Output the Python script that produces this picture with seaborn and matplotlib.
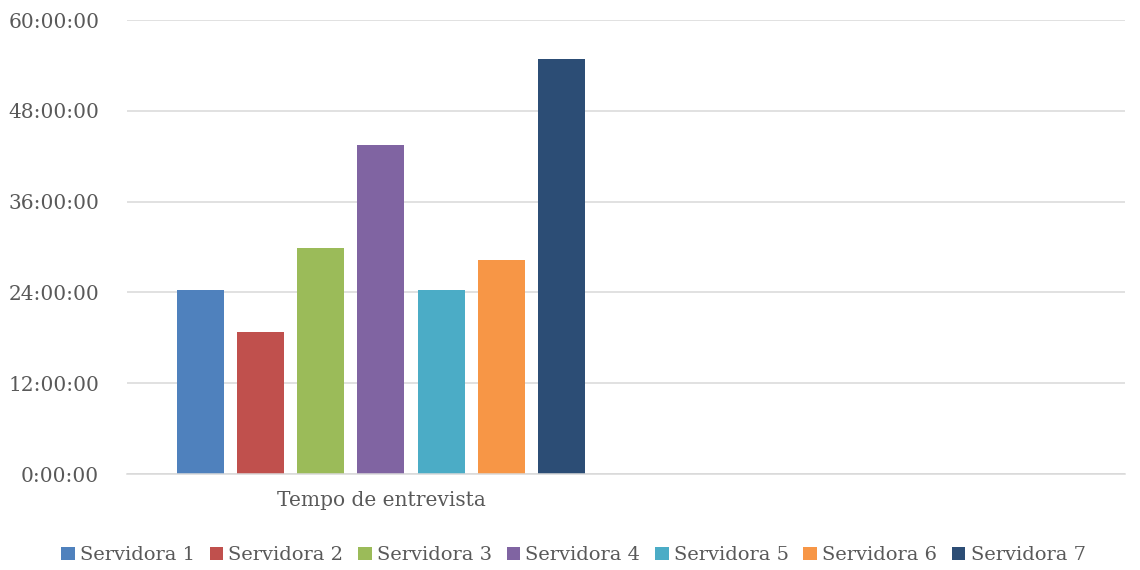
import matplotlib
matplotlib.use("Agg")
import matplotlib.pyplot as plt
import matplotlib.patches as mpatches
from matplotlib.ticker import FuncFormatter, MultipleLocator
import seaborn as sns
import pandas as pd

# Data (hours)
categories = ["Tempo de entrevista", ""]
servidoras = ["Servidora 1", "Servidora 2", "Servidora 3", "Servidora 4",
              "Servidora 5", "Servidora 6", "Servidora 7"]
horas = [24.3, 18.75, 29.85, 43.5, 24.3, 28.25, 54.8]
colors = ["#4F81BD", "#C0504D", "#9BBB59", "#8064A2", "#4BACC6", "#F79646", "#2C4D75"]

df = pd.DataFrame({"categoria": [categories[0]] * len(servidoras),
                   "servidora": servidoras,
                   "horas": horas})

sns.set_theme(style="white")
plt.rcParams["font.family"] = ["DejaVu Serif"]
text_color = "#595959"
grid_color = "#D9D9D9"

fig = plt.figure(figsize=(11.4, 5.7), dpi=100)
ax = fig.add_axes([127/1140, 1 - 474/570, (1125-127)/1140, (474-20)/570])

sns.barplot(data=df, x="categoria", y="horas", hue="servidora",
            order=categories, hue_order=servidoras, palette=colors,
            saturation=1, width=0.842, gap=0.217, legend=False, ax=ax,
            linewidth=0, edgecolor="none")

ax.set_ylim(0, 60)
ax.set_xlim(-0.509, 1.491)
ax.yaxis.set_major_locator(MultipleLocator(12))
ax.yaxis.set_major_formatter(FuncFormatter(lambda v, p: f"{int(round(v))}:00:00"))
ax.grid(axis="y", color=grid_color, linewidth=1.1)
ax.set_axisbelow(True)
for s in ["top", "right", "left"]:
    ax.spines[s].set_visible(False)
ax.spines["bottom"].set_color(grid_color)
ax.spines["bottom"].set_linewidth(1.1)
ax.tick_params(axis="both", length=0, colors=text_color, labelsize=14.5)
ax.tick_params(axis="y", pad=20)
ax.tick_params(axis="x", pad=12)
ax.set_xlabel("")
ax.set_ylabel("")

handles = [mpatches.Patch(facecolor=c, edgecolor="none", label=l) for c, l in zip(colors, servidoras)]
leg = fig.legend(handles=handles, loc="center", bbox_to_anchor=(0.503, 0.026), ncol=7,
                 frameon=False, fontsize=14, handlelength=0.7, handleheight=0.7,
                 handletextpad=0.27, columnspacing=0.75, labelcolor=text_color)

fig.savefig("out.png", dpi=100)
